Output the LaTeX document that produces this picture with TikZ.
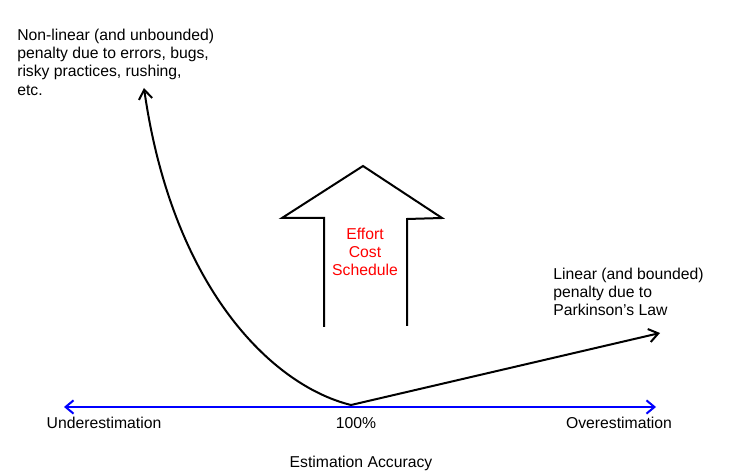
\documentclass[tikz,border=0pt]{standalone}
\usepackage{fontspec}
\setmainfont{Liberation Sans}
\usetikzlibrary{arrows.meta}

\tikzset{
  note/.style={align=left, anchor=north west, inner sep=0pt},
  axislabel/.style={anchor=base, inner sep=0pt},
  penalty/.style={line width=1.5pt, -{Straight Barb[length=7pt, width=10pt]}},
  bigarrow/.style={line width=1.5pt, line join=miter}
}

\begin{document}
\begin{tikzpicture}[x=0.75pt, y=-0.75pt, font=\fontsize{11.8}{13.6}\selectfont]

\useasboundingbox (0,0) rectangle (733,474);

% --- Axis ---
\coordinate (under) at (64,407);
\coordinate (over) at (656,407);
\coordinate (best) at (351,405);
\draw[blue, line width=1.5pt, {Straight Barb[length=6pt, width=10pt]}-{Straight Barb[length=6pt, width=10pt]}] (under) -- (over);

\node[axislabel] (lunder) at (104,429) {Underestimation};
\node[axislabel] (lbest) at (356,429) {100\%};
\node[axislabel] (lover) at (619,429) {Overestimation};
\node[axislabel] (ltitle) at (361,468) {Estimation Accuracy};

% --- Penalty curves ---
\coordinate (leftend) at (144,88);
\coordinate (rightend) at (660,333);
\draw[penalty] (best) .. controls (270,385) and (172,285) .. (leftend);
\draw[penalty] (best) -- (rightend);

\node[note] (nonlinear) at (17,29) {Non-linear (and unbounded)\\penalty due to errors, bugs,\\risky practices, rushing,\\etc.};
\node[note] (linear) at (553,268) {Linear (and bounded)\\penalty due to\\Parkinson's Law};

% --- Big arrow ---
\draw[bigarrow] (324,327) -- (324,218) -- (282,218) -- (363,166)
  -- (442,218) -- (407,219) -- (407,326);
\node[red, align=center, inner sep=0pt] (effort) at (365,252) {Effort\\Cost\\Schedule};

\end{tikzpicture}
\end{document}
